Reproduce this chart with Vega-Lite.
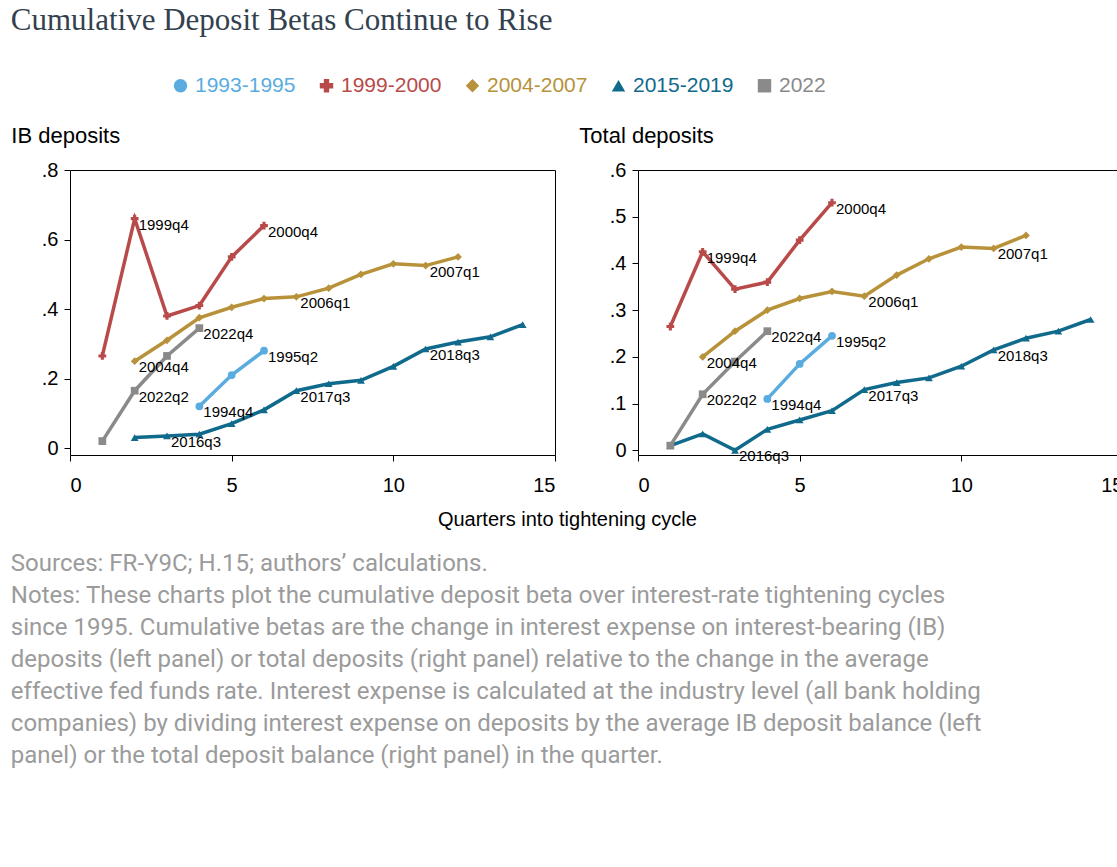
{
  "$schema": "https://vega.github.io/schema/vega-lite/v6.json",
  "background": "white",
  "padding": {"left": 10, "top": 4, "right": 5, "bottom": 5},
  "config": {
    "font": "Liberation Sans",
    "view": {"stroke": "black", "strokeWidth": 1},
    "axis": {"grid": false, "labelFontSize": 20, "labelColor": "black", "domain": false, "tickColor": "black", "tickSize": 6, "labelFont": "Liberation Sans"},
    "title": {"font": "Liberation Sans"}
  },
  "data": {"values": [
    {"p": "IB", "s": "1993-1995", "q": 4, "b": 0.12, "l": "1994q4"},
    {"p": "IB", "s": "1993-1995", "q": 5, "b": 0.21},
    {"p": "IB", "s": "1993-1995", "q": 6, "b": 0.28, "l": "1995q2"},
    {"p": "IB", "s": "1999-2000", "q": 1, "b": 0.265},
    {"p": "IB", "s": "1999-2000", "q": 2, "b": 0.66, "l": "1999q4"},
    {"p": "IB", "s": "1999-2000", "q": 3, "b": 0.38},
    {"p": "IB", "s": "1999-2000", "q": 4, "b": 0.41},
    {"p": "IB", "s": "1999-2000", "q": 5, "b": 0.55},
    {"p": "IB", "s": "1999-2000", "q": 6, "b": 0.64, "l": "2000q4"},
    {"p": "IB", "s": "2004-2007", "q": 2, "b": 0.25, "l": "2004q4"},
    {"p": "IB", "s": "2004-2007", "q": 3, "b": 0.31},
    {"p": "IB", "s": "2004-2007", "q": 4, "b": 0.375},
    {"p": "IB", "s": "2004-2007", "q": 5, "b": 0.405},
    {"p": "IB", "s": "2004-2007", "q": 6, "b": 0.43},
    {"p": "IB", "s": "2004-2007", "q": 7, "b": 0.435, "l": "2006q1"},
    {"p": "IB", "s": "2004-2007", "q": 8, "b": 0.46},
    {"p": "IB", "s": "2004-2007", "q": 9, "b": 0.5},
    {"p": "IB", "s": "2004-2007", "q": 10, "b": 0.53},
    {"p": "IB", "s": "2004-2007", "q": 11, "b": 0.525, "l": "2007q1"},
    {"p": "IB", "s": "2004-2007", "q": 12, "b": 0.55},
    {"p": "IB", "s": "2015-2019", "q": 2, "b": 0.03},
    {"p": "IB", "s": "2015-2019", "q": 3, "b": 0.035, "l": "2016q3"},
    {"p": "IB", "s": "2015-2019", "q": 4, "b": 0.04},
    {"p": "IB", "s": "2015-2019", "q": 5, "b": 0.07},
    {"p": "IB", "s": "2015-2019", "q": 6, "b": 0.11},
    {"p": "IB", "s": "2015-2019", "q": 7, "b": 0.165, "l": "2017q3"},
    {"p": "IB", "s": "2015-2019", "q": 8, "b": 0.185},
    {"p": "IB", "s": "2015-2019", "q": 9, "b": 0.195},
    {"p": "IB", "s": "2015-2019", "q": 10, "b": 0.235},
    {"p": "IB", "s": "2015-2019", "q": 11, "b": 0.285, "l": "2018q3"},
    {"p": "IB", "s": "2015-2019", "q": 12, "b": 0.305},
    {"p": "IB", "s": "2015-2019", "q": 13, "b": 0.32},
    {"p": "IB", "s": "2015-2019", "q": 14, "b": 0.355},
    {"p": "IB", "s": "2022", "q": 1, "b": 0.02},
    {"p": "IB", "s": "2022", "q": 2, "b": 0.165, "l": "2022q2"},
    {"p": "IB", "s": "2022", "q": 3, "b": 0.265},
    {"p": "IB", "s": "2022", "q": 4, "b": 0.345, "l": "2022q4"},
    {"p": "TD", "s": "1993-1995", "q": 4, "b": 0.11, "l": "1994q4"},
    {"p": "TD", "s": "1993-1995", "q": 5, "b": 0.185},
    {"p": "TD", "s": "1993-1995", "q": 6, "b": 0.245, "l": "1995q2"},
    {"p": "TD", "s": "1999-2000", "q": 1, "b": 0.265},
    {"p": "TD", "s": "1999-2000", "q": 2, "b": 0.425, "l": "1999q4"},
    {"p": "TD", "s": "1999-2000", "q": 3, "b": 0.345},
    {"p": "TD", "s": "1999-2000", "q": 4, "b": 0.36},
    {"p": "TD", "s": "1999-2000", "q": 5, "b": 0.45},
    {"p": "TD", "s": "1999-2000", "q": 6, "b": 0.53, "l": "2000q4"},
    {"p": "TD", "s": "2004-2007", "q": 2, "b": 0.2, "l": "2004q4"},
    {"p": "TD", "s": "2004-2007", "q": 3, "b": 0.255},
    {"p": "TD", "s": "2004-2007", "q": 4, "b": 0.3},
    {"p": "TD", "s": "2004-2007", "q": 5, "b": 0.325},
    {"p": "TD", "s": "2004-2007", "q": 6, "b": 0.34},
    {"p": "TD", "s": "2004-2007", "q": 7, "b": 0.33, "l": "2006q1"},
    {"p": "TD", "s": "2004-2007", "q": 8, "b": 0.375},
    {"p": "TD", "s": "2004-2007", "q": 9, "b": 0.41},
    {"p": "TD", "s": "2004-2007", "q": 10, "b": 0.435},
    {"p": "TD", "s": "2004-2007", "q": 11, "b": 0.432, "l": "2007q1"},
    {"p": "TD", "s": "2004-2007", "q": 12, "b": 0.46},
    {"p": "TD", "s": "2015-2019", "q": 1, "b": 0.01},
    {"p": "TD", "s": "2015-2019", "q": 2, "b": 0.035},
    {"p": "TD", "s": "2015-2019", "q": 3, "b": 0.0, "l": "2016q3"},
    {"p": "TD", "s": "2015-2019", "q": 4, "b": 0.045},
    {"p": "TD", "s": "2015-2019", "q": 5, "b": 0.065},
    {"p": "TD", "s": "2015-2019", "q": 6, "b": 0.085},
    {"p": "TD", "s": "2015-2019", "q": 7, "b": 0.13, "l": "2017q3"},
    {"p": "TD", "s": "2015-2019", "q": 8, "b": 0.145},
    {"p": "TD", "s": "2015-2019", "q": 9, "b": 0.155},
    {"p": "TD", "s": "2015-2019", "q": 10, "b": 0.18},
    {"p": "TD", "s": "2015-2019", "q": 11, "b": 0.215, "l": "2018q3"},
    {"p": "TD", "s": "2015-2019", "q": 12, "b": 0.24},
    {"p": "TD", "s": "2015-2019", "q": 13, "b": 0.255},
    {"p": "TD", "s": "2015-2019", "q": 14, "b": 0.28},
    {"p": "TD", "s": "2022", "q": 1, "b": 0.01},
    {"p": "TD", "s": "2022", "q": 2, "b": 0.12, "l": "2022q2"},
    {"p": "TD", "s": "2022", "q": 3, "b": 0.19},
    {"p": "TD", "s": "2022", "q": 4, "b": 0.255, "l": "2022q4"}
  ]},
  "title": {
    "text": [
      "Sources: FR-Y9C; H.15; authors’ calculations.",
      "Notes: These charts plot the cumulative deposit beta over interest-rate tightening cycles",
      "since 1995. Cumulative betas are the change in interest expense on interest-bearing (IB)",
      "deposits (left panel) or total deposits (right panel) relative to the change in the average",
      "effective fed funds rate. Interest expense is calculated at the industry level (all bank holding",
      "companies) by dividing interest expense on deposits by the average IB deposit balance (left",
      "panel) or the total deposit balance (right panel) in the quarter."
    ],
    "orient": "bottom", "anchor": "start", "font": "Roboto", "fontSize": 24, "fontWeight": "normal",
    "color": "#9b9b9b", "lineHeight": 32, "offset": 22
  },
  "vconcat": [{
    "title": {"text": "Cumulative Deposit Betas Continue to Rise", "anchor": "start", "font": "Liberation Serif", "fontSize": 31, "fontWeight": "normal", "color": "#33414e", "offset": 88},
    "vconcat": [{
      "title": {"text": "Quarters into tightening cycle", "orient": "bottom", "anchor": "middle", "fontSize": 20, "fontWeight": "normal", "color": "black", "offset": 14},
      "spacing": 22,
      "hconcat": [
        {
          "title": {"text": "IB deposits", "anchor": "start", "fontSize": 22, "fontWeight": "normal", "color": "black", "dx": -30, "offset": 12},
          "width": 485, "height": 285,
          "transform": [{"filter": "datum.p == 'IB'"}],
          "encoding": {
            "x": {"field": "q", "type": "quantitative", "title": null, "scale": {"domain": [0, 15], "nice": false}, "axis": {"values": [0, 5, 10, 15], "labelPadding": 14}},
            "y": {"field": "b", "type": "quantitative", "title": null, "scale": {"domain": [-0.02, 0.8], "nice": false}, "axis": {"values": [0, 0.2, 0.4, 0.6, 0.8], "labelExpr": "datum.value == 0 ? '0' : replace(format(datum.value, '.1f'), '0.', '.')", "labelPadding": 6}}
          },
          "layer": [
            {"mark": {"type": "line", "strokeWidth": 3.5}, "encoding": {
              "color": {"field": "s", "type": "nominal", "title": null, "scale": {"domain": ["1993-1995", "1999-2000", "2004-2007", "2015-2019", "2022"], "range": ["#5aace0", "#b94a4a", "#b8923a", "#106a8c", "#8a8a8a"]},
                "legend": {"orient": "none", "direction": "horizontal", "legendX": 100, "legendY": -95, "labelFontSize": 21, "symbolSize": 180, "symbolStrokeWidth": 0, "columnPadding": 20, "labelLimit": 200,
                  "encode": {"labels": {"update": {"fill": {"scale": "color", "field": "value"}}}}}},
              "shape": {"field": "s", "type": "nominal", "title": null, "scale": {"domain": ["1993-1995", "1999-2000", "2004-2007", "2015-2019", "2022"], "range": ["circle", "cross", "diamond", "triangle-up", "square"]},
                "legend": {"orient": "none", "direction": "horizontal", "legendX": 100, "legendY": -95, "labelFontSize": 21, "symbolSize": 180, "symbolStrokeWidth": 0, "columnPadding": 20, "labelLimit": 200,
                  "encode": {"labels": {"update": {"fill": {"scale": "color", "field": "value"}}}}}}}},
            {"mark": {"type": "point", "filled": true, "opacity": 1, "size": 60}, "encoding": {"color": {"field": "s", "type": "nominal"}, "shape": {"field": "s", "type": "nominal"}}},
            {"transform": [{"filter": "isValid(datum.l)"}], "mark": {"type": "text", "align": "left", "dx": 4, "dy": 6, "fontSize": 15, "color": "black"}, "encoding": {"text": {"field": "l"}}}
          ]
        },
        {
          "title": {"text": "Total deposits", "anchor": "start", "fontSize": 22, "fontWeight": "normal", "color": "black", "dx": -30, "offset": 12},
          "width": 485, "height": 285,
          "transform": [{"filter": "datum.p == 'TD'"}],
          "encoding": {
            "x": {"field": "q", "type": "quantitative", "title": null, "scale": {"domain": [0, 15], "nice": false}, "axis": {"values": [0, 5, 10, 15], "labelPadding": 14}},
            "y": {"field": "b", "type": "quantitative", "title": null, "scale": {"domain": [-0.01, 0.6], "nice": false}, "axis": {"values": [0, 0.1, 0.2, 0.3, 0.4, 0.5, 0.6], "labelExpr": "datum.value == 0 ? '0' : replace(format(datum.value, '.1f'), '0.', '.')", "labelPadding": 6}}
          },
          "layer": [
            {"mark": {"type": "line", "strokeWidth": 3.5}, "encoding": {"color": {"field": "s", "type": "nominal", "legend": null, "scale": {"domain": ["1993-1995", "1999-2000", "2004-2007", "2015-2019", "2022"], "range": ["#5aace0", "#b94a4a", "#b8923a", "#106a8c", "#8a8a8a"]}}}},
            {"mark": {"type": "point", "filled": true, "opacity": 1, "size": 60}, "encoding": {"color": {"field": "s", "type": "nominal", "legend": null}, "shape": {"field": "s", "type": "nominal", "legend": null, "scale": {"domain": ["1993-1995", "1999-2000", "2004-2007", "2015-2019", "2022"], "range": ["circle", "cross", "diamond", "triangle-up", "square"]}}}},
            {"transform": [{"filter": "isValid(datum.l)"}], "mark": {"type": "text", "align": "left", "dx": 4, "dy": 6, "fontSize": 15, "color": "black"}, "encoding": {"text": {"field": "l"}}}
          ]
        }
      ]
    }]
  }]
}
